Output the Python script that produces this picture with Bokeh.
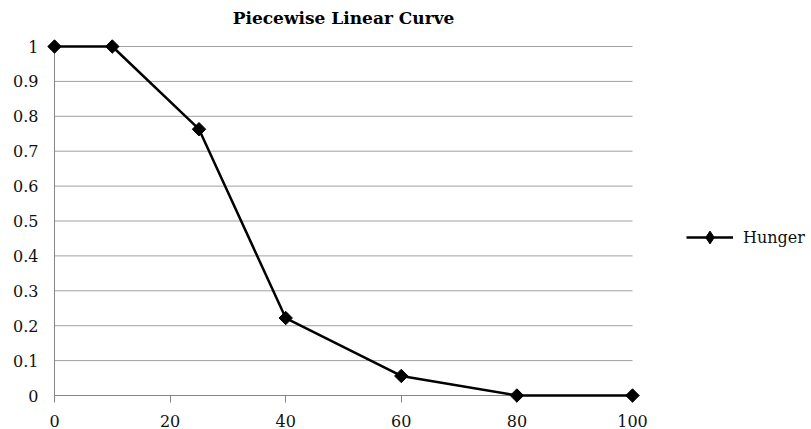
import numpy as np
from bokeh.plotting import figure
from bokeh.models import Range1d, FixedTicker, Legend, LegendItem, Label
from bokeh.embed import file_html
from bokeh.resources import INLINE

x_vals = [0, 10, 25, 40, 60, 80, 100]
hunger = [1.0, 1.0, 0.763, 0.222, 0.056, 0.0, 0.0]
x_ticks = [0, 20, 40, 60, 80, 100]
y_ticks = [0, 0.1, 0.2, 0.3, 0.4, 0.5, 0.6, 0.7, 0.8, 0.9, 1.0]
title_text = "Piecewise Linear Curve"

FONT = "DejaVu Serif"

# Layout in pixels: data area x 0..100 -> 54..632, y 0..1 -> 395..46.
# The frame covers everything right of / above that, so the legend and the
# title can sit inside it without being clipped.
LEFT, RIGHT, TOP, BOTTOM = 54, 632, 46, 395
X_END = x_ticks[-1] * (811 - LEFT) / (RIGHT - LEFT)
Y_END = y_ticks[-1] * BOTTOM / (BOTTOM - TOP)
TITLE_Y = y_ticks[-1] * (BOTTOM - 17) / (BOTTOM - TOP)

p = figure(width=811, height=429, output_backend="svg", toolbar_location=None,
           x_range=Range1d(x_ticks[0], X_END), y_range=Range1d(y_ticks[0], Y_END),
           min_border_left=LEFT, min_border_right=0, min_border_top=0,
           min_border_bottom=429 - BOTTOM)

p.outline_line_color = None
p.xgrid.grid_line_color = None
p.ygrid.grid_line_color = None

# horizontal gridlines limited to the data area
p.segment(x0=[x_ticks[0]] * len(y_ticks), x1=[x_ticks[-1]] * len(y_ticks),
          y0=y_ticks, y1=y_ticks, line_color="#a0a0a0", line_width=1, level="underlay")

p.xaxis.ticker = FixedTicker(ticks=x_ticks)
p.xaxis.bounds = (x_ticks[0], x_ticks[-1])
p.yaxis.ticker = FixedTicker(ticks=y_ticks)
p.yaxis.bounds = (y_ticks[0], y_ticks[-1])
p.yaxis.major_label_overrides = {0: "0", 1.0: "1"}
for ax in (p.xaxis, p.yaxis):
    ax.axis_line_color = "#868686"
    ax.major_tick_line_color = "#868686"
    ax.minor_tick_line_color = None
    ax.major_label_text_font = FONT
    ax.major_label_text_font_size = "16px"
    ax.major_label_text_color = "#111111"
p.xaxis.major_tick_in = 0
p.xaxis.major_tick_out = 7
p.xaxis.major_label_standoff = 12
p.yaxis.major_tick_in = 0
p.yaxis.major_tick_out = 0
p.yaxis.major_label_standoff = 16

p.add_layout(Label(x=(x_ticks[0] + x_ticks[-1]) / 2, y=TITLE_Y, text=title_text,
                   text_align="center", text_baseline="middle", text_font=FONT,
                   text_font_size="17px", text_font_style="bold", text_color="#000000"))

# drawn at overlay level so the markers on the frame edges are not clipped
ln = p.line(x_vals, hunger, line_color="black", line_width=2.5, level="overlay")
# narrow diamond hidden beneath the rotated squares; it supplies the legend swatch
dm = p.scatter(x_vals, hunger, marker="diamond", size=10, fill_color="black",
               line_color="black", line_width=1, level="overlay")
sc = p.scatter(x_vals, hunger, marker="square", angle=np.pi / 4, size=9.5,
               fill_color="black", line_color="black", level="overlay")

legend = Legend(items=[LegendItem(label="Hunger", renderers=[ln, dm])],
                location=(RIGHT, 142), border_line_color=None, background_fill_alpha=0,
                padding=0, margin=0, glyph_width=47, glyph_height=32, label_standoff=10,
                label_text_font=FONT, label_text_font_size="16px",
                label_text_color="#111111")
p.add_layout(legend, "center")

open("out.html", "w").write(file_html(p, INLINE))
